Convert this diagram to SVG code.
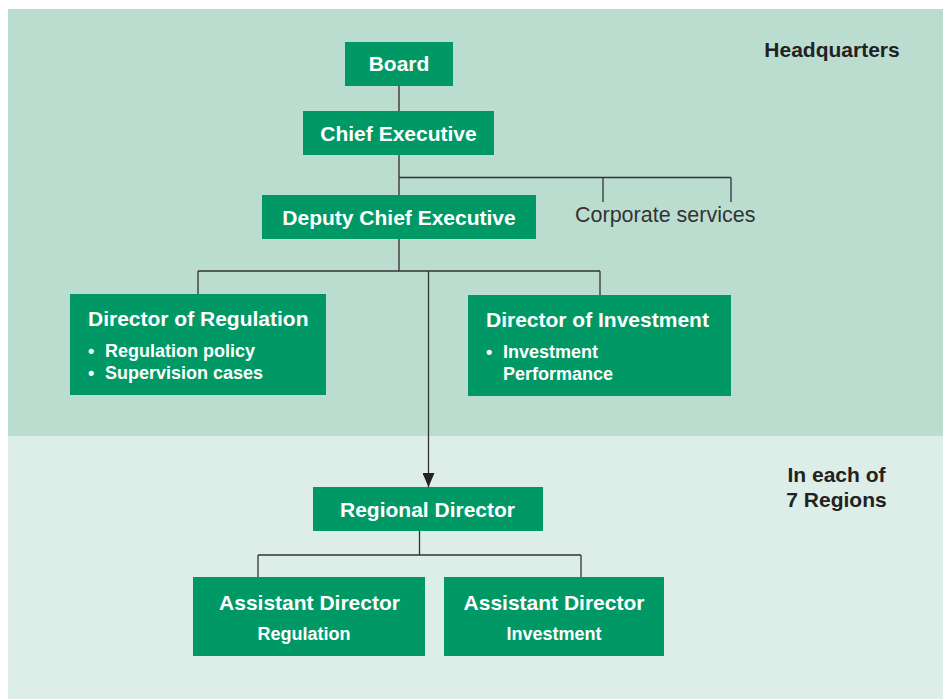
<svg xmlns="http://www.w3.org/2000/svg" width="943" height="699" viewBox="0 0 943 699">
  <style>
    .box { fill: #009966; }
    .t { font-family: "Liberation Sans", Arial, sans-serif; font-weight: bold; fill: #ffffff; }
    .title { font-size: 21px; }
    .sub { font-size: 18px; }
    .zone { font-family: "Liberation Sans", Arial, sans-serif; font-weight: bold; font-size: 21px; fill: #222222; }
    .trunk { stroke: #666666; stroke-width: 2; fill: none; }
    .line { stroke: #333333; stroke-width: 1.3; fill: none; }
  </style>
  <defs>
    <marker id="arrow" viewBox="0 0 14 12" refX="14" refY="6" markerWidth="14" markerHeight="12" markerUnits="userSpaceOnUse" orient="auto">
      <path d="M0,0 L14,6 L0,12 Z" fill="#222222"/>
    </marker>
  </defs>

  <!-- Zone backgrounds -->
  <rect x="8" y="9" width="935" height="427" fill="#bbddd0"/>
  <rect x="8" y="436" width="935" height="263" fill="#ddede7"/>

  <text class="zone" x="832" y="57" text-anchor="middle">Headquarters</text>
  <text class="zone" x="836.5" y="482" text-anchor="middle">In each of</text>
  <text class="zone" x="836.5" y="507" text-anchor="middle">7 Regions</text>

  <!-- Connectors -->
  <g id="connectors">
    <path class="trunk" d="M399,86 V111"/>
    <path class="trunk" d="M399,155 V195"/>
    <path class="trunk" d="M399,239 V271"/>
    <path class="line" d="M399,177.5 H731 M603,177.5 V202 M731,177.5 V202"/>
    <path class="line" d="M198,271 H600 M198,271 V295 M600,271 V296"/>
    <path class="line" d="M428.5,271 V487" marker-end="url(#arrow)"/>
    <path class="line" d="M419.5,531 V555 M258,555 H581 M258,555 V578 M581,555 V577"/>
  </g>

  <g id="board">
    <rect class="box" x="345" y="42" width="108" height="44"/>
    <text class="t title" x="399" y="71" text-anchor="middle">Board</text>
  </g>

  <g id="chief-executive">
    <rect class="box" x="303" y="111" width="191" height="44"/>
    <text class="t title" x="398.5" y="141" text-anchor="middle">Chief Executive</text>
  </g>

  <g id="deputy-chief-executive">
    <rect class="box" x="262" y="195" width="274" height="44"/>
    <text class="t title" x="399" y="225" text-anchor="middle">Deputy Chief Executive</text>
  </g>

  <g id="corporate-services">
    <text x="575" y="222" font-family="Liberation Sans, Arial, sans-serif" font-size="21.5" fill="#333333">Corporate services</text>
  </g>

  <g id="director-regulation">
    <rect class="box" x="70" y="294" width="256" height="101"/>
    <text class="t title" x="88" y="326">Director of Regulation</text>
    <text class="t sub" x="88" y="357">•</text>
    <text class="t sub" x="105" y="357">Regulation policy</text>
    <text class="t sub" x="88" y="379">•</text>
    <text class="t sub" x="105" y="379">Supervision cases</text>
  </g>

  <g id="director-investment">
    <rect class="box" x="468" y="295" width="263" height="101"/>
    <text class="t title" x="486" y="327">Director of Investment</text>
    <text class="t sub" x="486" y="358">•</text>
    <text class="t sub" x="503" y="358">Investment</text>
    <text class="t sub" x="503" y="380">Performance</text>
  </g>

  <g id="regional-director">
    <rect class="box" x="313" y="487" width="230" height="44"/>
    <text class="t title" x="427.5" y="517" text-anchor="middle">Regional Director</text>
  </g>

  <g id="assistant-director-regulation">
    <rect class="box" x="193" y="577" width="232" height="79"/>
    <text class="t title" x="309.5" y="610" text-anchor="middle">Assistant Director</text>
    <text class="t sub" x="304" y="640" text-anchor="middle">Regulation</text>
  </g>

  <g id="assistant-director-investment">
    <rect class="box" x="444" y="577" width="220" height="79"/>
    <text class="t title" x="554" y="610" text-anchor="middle">Assistant Director</text>
    <text class="t sub" x="554" y="640" text-anchor="middle">Investment</text>
  </g>
</svg>
